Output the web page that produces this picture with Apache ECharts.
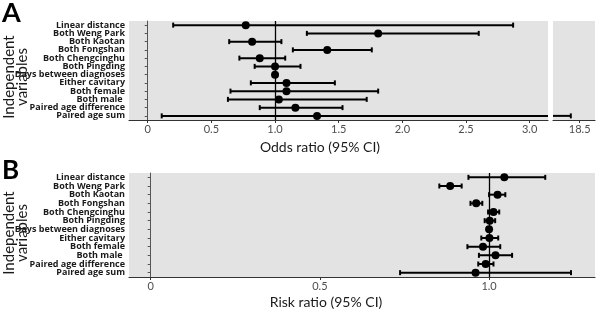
<!DOCTYPE html>
<html>
<head>
<meta charset="utf-8">
<script src="https://cdn.jsdelivr.net/npm/echarts@6/dist/echarts.min.js"></script>
<style>
  html, body { margin: 0; padding: 0; background: #fff; }
  #chart { width: 600px; height: 313px; }
</style>
</head>
<body>
<div id="chart"></div>
<script>
  // variables, top to bottom
  const categories = ['Linear distance', 'Both Weng Park', 'Both Kaotan', 'Both Fongshan', 'Both Chengcinghu',
    'Both Pingding', 'Days between diagnoses', 'Either cavitary', 'Both female', 'Both male ',
    'Paired age difference', 'Paired age sum']

  // panel A - odds ratio
  const orEst = [0.77, 1.81, 0.82, 1.41, 0.88, 1.0, 1.0, 1.09, 1.09, 1.03, 1.16, 1.33]
  const orLow = [0.20, 1.25, 0.64, 1.14, 0.72, 0.84, 0.995, 0.81, 0.65, 0.63, 0.88, 0.11]
  const orHigh = [2.87, 2.60, 1.05, 1.76, 1.08, 1.20, 1.005, 1.47, 1.81, 1.72, 1.53, 18.43]

  // panel B - risk ratio
  const rrEst = [1.045, 0.885, 1.025, 0.962, 1.013, 1.002, 1.0, 1.001, 0.982, 1.019, 0.99, 0.96]
  const rrLow = [0.939, 0.853, 1.0, 0.945, 0.997, 0.987, 0.999, 0.977, 0.936, 0.970, 0.968, 0.737]
  const rrHigh = [1.166, 0.919, 1.048, 0.980, 1.030, 1.018, 1.001, 1.027, 1.033, 1.068, 1.013, 1.242]

  const ticksA = [0, 0.5, 1.0, 1.5, 2.0, 2.5, 3.0]
  const ticksA2 = [18.5]
  const ticksB = [0, 0.5, 1.0]

  const labelFont = 'Lato'
  const fmt = v => v === 0 ? '0' : v.toFixed(1)

  function errData(low, high) {
    return low.map((l, i) => [i, l, high[i]])
  }

  // error bar with caps, clipped to its grid
  function renderErr(params, api) {
    const cat = api.value(0)
    const p1 = api.coord([api.value(1), cat])
    const p2 = api.coord([api.value(2), cat])
    const cs = params.coordSys
    const xmin = cs.x, xmax = cs.x + cs.width
    if (p2[0] < xmin || p1[0] > xmax) return
    const x1 = Math.max(p1[0], xmin), x2 = Math.min(p2[0], xmax)
    const y = p1[1]
    const st = { stroke: '#000', lineWidth: 2 }
    const kids = [{ type: 'line', shape: { x1: x1, y1: y, x2: x2, y2: y }, style: st }]
    if (p1[0] >= xmin) kids.push({ type: 'line', shape: { x1: p1[0], y1: y - 2.5, x2: p1[0], y2: y + 2.5 }, style: st })
    if (p2[0] <= xmax) kids.push({ type: 'line', shape: { x1: p2[0], y1: y - 2.5, x2: p2[0], y2: y + 2.5 }, style: st })
    return { type: 'group', children: kids }
  }

  function catAxis(gridIndex, showLabels) {
    return {
      type: 'category',
      gridIndex: gridIndex,
      data: categories,
      inverse: true,
      axisLine: { show: showLabels, lineStyle: { color: '#555', width: 1 } },
      axisTick: { show: showLabels, length: 3, alignWithLabel: true, lineStyle: { color: '#555' } },
      axisLabel: {
        show: showLabels, margin: 4, fontSize: 9, fontWeight: 'bold',
        color: '#1a1a1a', fontFamily: 'Open Sans', interval: 0
      }
    }
  }

  function valAxis(gridIndex, min, max, ticks) {
    return {
      type: 'value',
      gridIndex: gridIndex,
      min: min,
      max: max,
      splitLine: { show: false },
      axisLine: { show: true, onZero: false, lineStyle: { color: '#333', width: 1.2 } },
      axisTick: { show: true, length: 3, customValues: ticks, lineStyle: { color: '#333' } },
      axisLabel: {
        customValues: ticks, formatter: fmt, fontSize: 11, color: '#4d4d4d',
        fontFamily: labelFont, margin: 4
      }
    }
  }

  const refLine = {
    silent: true,
    symbol: 'none',
    label: { show: false },
    lineStyle: { color: '#000', width: 1.3, type: 'solid' },
    data: [{ xAxis: 1 }]
  }

  const dot = { color: '#000', opacity: 1 }

  const chart = echarts.init(document.getElementById('chart'), null, { renderer: 'canvas' })
  chart.setOption({
    animation: false,
    backgroundColor: '#fff',
    grid: [
      { left: 129, top: 21, width: 419, height: 99, show: true, backgroundColor: '#e3e3e3', borderWidth: 0 },
      { left: 553, top: 21, width: 42, height: 99, show: true, backgroundColor: '#e3e3e3', borderWidth: 0 },
      { left: 129, top: 173, width: 466, height: 104, show: true, backgroundColor: '#e3e3e3', borderWidth: 0 }
    ],
    xAxis: [
      valAxis(0, -0.147, 3.144, ticksA),
      valAxis(1, 18.29, 18.62, ticksA2),
      valAxis(2, -0.064, 1.313, ticksB)
    ],
    yAxis: [catAxis(0, true), catAxis(1, false), catAxis(2, true)],
    series: [
      {
        type: 'custom', xAxisIndex: 0, yAxisIndex: 0,
        renderItem: renderErr, encode: { x: [1, 2], y: 0 },
        data: errData(orLow, orHigh), markLine: refLine
      },
      {
        type: 'scatter', xAxisIndex: 0, yAxisIndex: 0,
        symbolSize: 8, itemStyle: dot,
        data: orEst.map((v, i) => [v, i]), z: 3
      },
      {
        type: 'custom', xAxisIndex: 1, yAxisIndex: 1,
        renderItem: renderErr, encode: { x: [1, 2], y: 0 },
        data: errData(orLow, orHigh)
      },
      {
        type: 'custom', xAxisIndex: 2, yAxisIndex: 2,
        renderItem: renderErr, encode: { x: [1, 2], y: 0 },
        data: errData(rrLow, rrHigh), markLine: refLine
      },
      {
        type: 'scatter', xAxisIndex: 2, yAxisIndex: 2,
        symbolSize: 8, itemStyle: dot,
        data: rrEst.map((v, i) => [v, i]), z: 3
      }
    ],
    graphic: [
      { type: 'text', left: 2, top: 0, style: { text: 'A', font: 'bold 27px Lato', fill: '#000' } },
      { type: 'text', left: 2, top: 158, style: { text: 'B', font: 'bold 26px Lato', fill: '#000' } },
      {
        type: 'text', x: 16, y: 77, rotation: Math.PI / 2,
        style: { text: 'Independent\nvariables', font: '15px Lato', fill: '#1a1a1a', align: 'center', verticalAlign: 'middle', lineHeight: 13 }
      },
      {
        type: 'text', x: 16, y: 233, rotation: Math.PI / 2,
        style: { text: 'Independent\nvariables', font: '15px Lato', fill: '#1a1a1a', align: 'center', verticalAlign: 'middle', lineHeight: 13 }
      },
      {
        type: 'text', x: 320, y: 147,
        style: { text: 'Odds ratio (95% CI)', font: '14px Lato', fill: '#1a1a1a', align: 'center', verticalAlign: 'middle' }
      },
      {
        type: 'text', x: 326, y: 302,
        style: { text: 'Risk ratio (95% CI)', font: '14px Lato', fill: '#1a1a1a', align: 'center', verticalAlign: 'middle' }
      }
    ]
  })
</script>
</body>
</html>
